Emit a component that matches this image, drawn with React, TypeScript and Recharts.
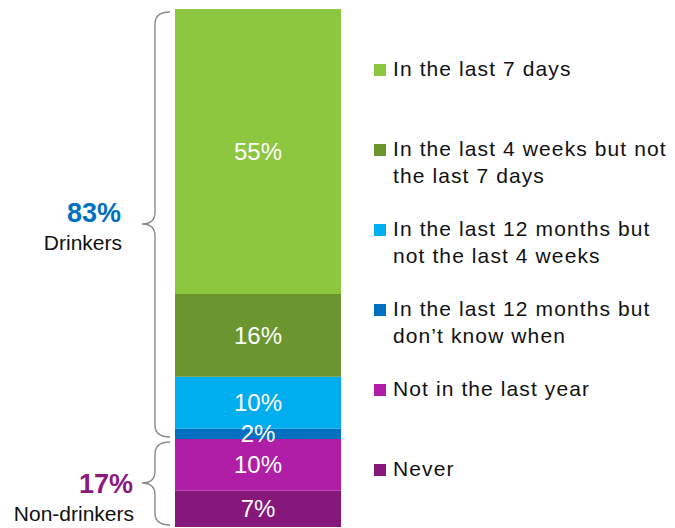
import { BarChart, Bar, XAxis, YAxis, LabelList, Legend, ReferenceArea } from 'recharts'

const CATEGORIES = ['All adults']

// stacked from the bottom up
const SERIES_KEYS = ['never', 'notLastYear', 'dontKnow', 'last12m', 'last4w', 'last7d']
const SERIES_NAMES = [
  'Never',
  'Not in the last year',
  'In the last 12 months but don’t know when',
  'In the last 12 months but not the last 4 weeks',
  'In the last 4 weeks but not the last 7 days',
  'In the last 7 days',
]
const SERIES_VALUES = [7, 10, 2, 10, 16, 55]
const SERIES_COLORS = ['#86187c', '#b01ea8', '#0070c0', '#00adee', '#6b962f', '#8dc63f']

// groups, bottom up: how many series each brace covers
const GROUP_NAMES = ['Non-drinkers', 'Drinkers']
const GROUP_SERIES_COUNT = [2, 4]
const GROUP_COLORS = ['#8b1a7f', '#0070c0']
const GROUP_TEXT_DY = [10, -2]
const GROUP_TEXT_RIGHT = [41, 53]

const FONT = 'Arial, "Liberation Sans", sans-serif'

const chartData = CATEGORIES.map(name => {
  const row: Record<string, string | number> = { name }
  SERIES_KEYS.forEach((k, i) => { row[k] = SERIES_VALUES[i] })
  return row
})

const groups = (() => {
  let start = 0
  let lo = 0
  return GROUP_NAMES.map((name, g) => {
    const vals = SERIES_VALUES.slice(start, start + GROUP_SERIES_COUNT[g])
    const total = vals.reduce((a, b) => a + b, 0)
    const out = {
      name, from: lo, to: lo + total, total,
      color: GROUP_COLORS[g], dy: GROUP_TEXT_DY[g], right: GROUP_TEXT_RIGHT[g],
    }
    start += GROUP_SERIES_COUNT[g]
    lo += total
    return out
  })
})()

function Brace(props: any) {
  const { x, y, height, group } = props
  const top = y + 3
  const bottom = y + height - 2
  const mid = y + height / 2
  const xr = x - 5
  const xm = x - 20
  const xt = x - 33
  const r = 12
  const d = `M${xr},${top} Q${xm},${top} ${xm},${top + r} L${xm},${mid - r} Q${xm},${mid} ${xt},${mid} ` +
    `Q${xm},${mid} ${xm},${mid + r} L${xm},${bottom - r} Q${xm},${bottom} ${xr},${bottom}`
  return (
    <g>
      <path d={d} fill="none" stroke="#8c8c8c" strokeWidth={1.4} />
      <text x={x - group.right - 1} y={mid + group.dy} textAnchor="end" fontFamily={FONT} fontSize={27} fontWeight="bold" fill={group.color}>
        {group.total}%
      </text>
      <text x={x - group.right} y={mid + group.dy + 28} textAnchor="end" fontFamily={FONT} fontSize={21} fill="#111">
        {group.name}
      </text>
    </g>
  )
}

function LegendBlock() {
  const items = SERIES_NAMES.map((n, i) => ({ n, c: SERIES_COLORS[i] })).reverse()
  return (
    <div style={{ fontFamily: FONT }}>
      {items.map(it => (
        <div key={it.n} style={{ height: 80, display: 'flex', alignItems: 'flex-start' }}>
          <span style={{ width: 12, height: 12, background: it.c, marginTop: 9, marginRight: 7, flex: 'none' }} />
          <span style={{ fontSize: 21, lineHeight: '27px', letterSpacing: 1.1, color: '#111', width: 282 }}>{it.n}</span>
        </div>
      ))}
    </div>
  )
}

export default function App() {
  return (
    <div style={{ position: 'absolute', left: 0, top: 0, width: 675, height: 528, background: '#fff' }}>
      <BarChart
        width={675}
        height={528}
        data={chartData}
        margin={{ top: 9, right: 334, bottom: 1, left: 175 }}
        barCategoryGap={0}
      >
        <XAxis dataKey="name" hide />
        <YAxis type="number" domain={[0, 100]} hide />
        {SERIES_KEYS.map((k, i) => (
          <Bar key={k} dataKey={k} name={SERIES_NAMES[i]} stackId="a" fill={SERIES_COLORS[i]} isAnimationActive={false}>
            <LabelList dataKey={k} position="center" fill="#fff" fontSize={24} fontFamily={FONT} formatter={(v: any) => `${v}%`} />
          </Bar>
        ))}
        {groups.map(g => (
          <ReferenceArea
            key={g.name}
            y1={g.from}
            y2={g.to}
            ifOverflow="visible"
            fillOpacity={0}
            shape={(p: any) => <Brace {...p} group={g} />}
          />
        ))}
        <Legend
          layout="vertical"
          align="center"
          verticalAlign="middle"
          content={() => <LegendBlock />}
          wrapperStyle={{ left: 374, top: 55, width: 301 }}
        />
      </BarChart>
    </div>
  )
}
